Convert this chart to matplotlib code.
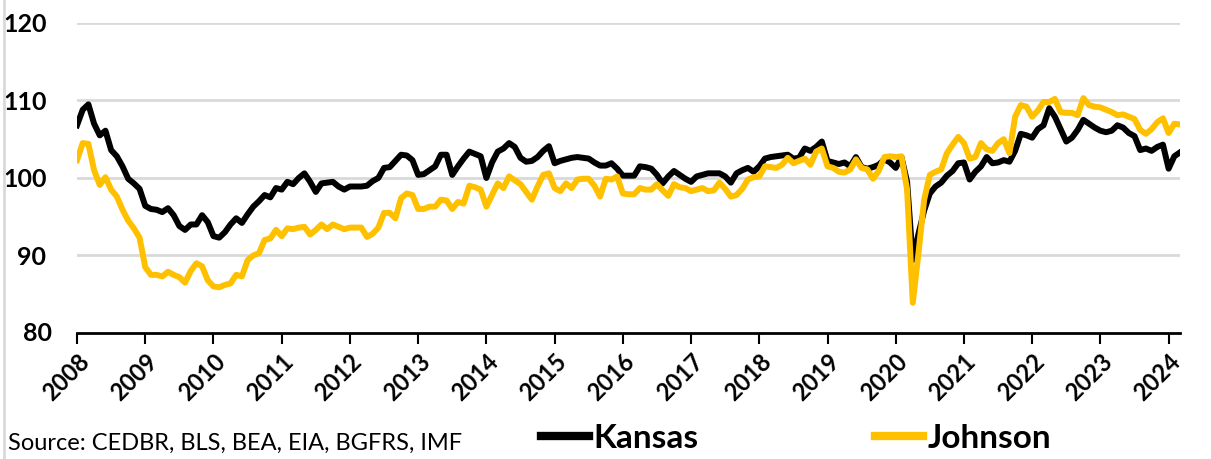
import numpy as np
import matplotlib.pyplot as plt
from matplotlib.lines import Line2D

# monthly index values, Jan 2008 - Mar 2024
kansas = [
    106.8, 108.8, 109.5, 107.0, 105.5, 106.1, 103.6, 102.8, 101.5, 99.9, 99.3, 98.6,   # 2008
    96.4, 96.0, 95.9, 95.6, 96.1, 95.2, 93.8, 93.3, 94.0, 94.0, 95.2, 94.3,           # 2009
    92.5, 92.3, 93.0, 94.0, 94.8, 94.2, 95.3, 96.3, 97.0, 97.8, 97.5, 98.7,           # 2010
    98.5, 99.5, 99.2, 100.0, 100.6, 99.5, 98.2, 99.3, 99.4, 99.5, 98.9, 98.5,         # 2011
    98.9, 98.9, 98.9, 99.0, 99.6, 100.0, 101.3, 101.4, 102.2, 103.0, 102.9, 102.3,    # 2012
    100.4, 100.5, 101.0, 101.5, 103.0, 103.0, 100.4, 101.5, 102.5, 103.4, 103.1, 102.8,  # 2013
    100.0, 102.0, 103.4, 103.8, 104.5, 104.0, 102.6, 102.1, 102.2, 102.7, 103.5, 104.1,  # 2014
    101.9, 102.2, 102.4, 102.6, 102.7, 102.6, 102.5, 102.0, 101.6, 101.6, 101.9, 101.2,  # 2015
    100.3, 100.3, 100.3, 101.5, 101.4, 101.2, 100.4, 99.3, 100.2, 100.9, 100.4, 99.9,    # 2016
    99.5, 100.2, 100.4, 100.6, 100.6, 100.6, 100.2, 99.4, 100.6, 101.0, 101.3, 100.8,    # 2017
    101.5, 102.5, 102.7, 102.8, 102.9, 103.0, 102.5, 102.6, 103.8, 103.5, 104.0, 104.7,  # 2018
    102.2, 102.0, 101.8, 102.0, 101.5, 102.7, 101.4, 101.2, 101.4, 101.7, 102.4, 102.0,  # 2019
    101.3, 102.7, 99.5, 89.4, 92.8, 95.8, 98.0, 98.9, 99.4, 100.3, 100.9, 101.9,         # 2020
    102.0, 99.8, 100.8, 101.5, 102.7, 101.9, 102.0, 102.3, 102.1, 103.5, 105.7, 105.5,   # 2021
    105.2, 106.3, 106.8, 109.0, 107.9, 106.3, 104.7, 105.2, 106.2, 107.5, 107.0, 106.5,  # 2022
    106.1, 105.9, 106.1, 106.8, 106.5, 105.8, 105.4, 103.6, 103.8, 103.5, 104.0, 104.3,  # 2023
    101.2, 102.8, 103.3,                                                                 # 2024
]

johnson = [
    102.3, 104.5, 104.4, 101.0, 99.1, 100.1, 98.5, 97.6, 95.9, 94.5, 93.5, 92.3,      # 2008
    88.5, 87.5, 87.5, 87.3, 87.9, 87.5, 87.2, 86.5, 88.0, 89.0, 88.6, 86.8,           # 2009
    86.0, 85.9, 86.2, 86.4, 87.5, 87.3, 89.4, 90.0, 90.3, 92.0, 92.2, 93.3,           # 2010
    92.5, 93.5, 93.4, 93.6, 93.7, 92.7, 93.3, 94.0, 93.4, 94.0, 93.7, 93.4,           # 2011
    93.6, 93.6, 93.6, 92.4, 92.8, 93.6, 95.5, 95.5, 94.8, 97.4, 98.0, 97.8,           # 2012
    96.0, 96.0, 96.3, 96.3, 97.2, 97.1, 96.0, 96.9, 96.7, 99.0, 98.8, 98.5,           # 2013
    96.3, 97.8, 99.3, 98.7, 100.2, 99.7, 99.2, 98.2, 97.2, 98.9, 100.4, 100.6,        # 2014
    98.7, 98.3, 99.3, 98.7, 99.8, 99.9, 99.9, 99.0, 97.6, 99.9, 99.8, 100.2,          # 2015
    98.0, 97.9, 97.9, 98.7, 98.5, 98.5, 99.2, 98.4, 97.7, 99.2, 98.8, 98.7,           # 2016
    98.3, 98.5, 98.7, 98.3, 98.4, 99.4, 98.6, 97.6, 97.8, 98.6, 99.8, 100.1,          # 2017
    100.2, 101.5, 101.4, 101.3, 101.7, 102.6, 101.9, 102.2, 102.5, 101.7, 103.4, 103.8,  # 2018
    101.5, 101.3, 100.8, 100.7, 101.1, 102.4, 101.3, 101.1, 99.9, 100.9, 102.7, 102.8,   # 2019
    102.7, 102.8, 98.5, 83.9, 90.3, 97.2, 100.4, 100.8, 101.1, 103.2, 104.3, 105.3,      # 2020
    104.5, 102.5, 102.7, 104.5, 103.7, 103.5, 104.5, 105.0, 103.2, 107.9, 109.4, 109.2,  # 2021
    107.9, 108.7, 109.8, 109.8, 110.2, 108.5, 108.4, 108.4, 108.1, 110.3, 109.4, 109.2,  # 2022
    109.1, 108.8, 108.5, 108.1, 108.2, 107.9, 107.6, 106.2, 105.7, 106.3, 107.2, 107.7,  # 2023
    105.8, 107.0, 106.9,                                                                 # 2024
]

years = list(range(2008, 2025))
yticks = [80, 90, 100, 110, 120]

x = 2008 + np.arange(len(kansas)) / 12.0

plt.rcParams['font.family'] = ['Lato', 'DejaVu Sans']

fig = plt.figure(figsize=(12.11, 4.59), dpi=100)
ax = fig.add_axes([0.0636, 0.2745, 0.9108, 0.6755])

ax.plot(x, kansas, color='black', linewidth=4.3, solid_joinstyle='round', label='Kansas', zorder=3)
ax.plot(x, johnson, color='#FFC000', linewidth=4.3, solid_joinstyle='round', label='Johnson', zorder=4)

ax.set_xlim(2008, x[-1])
ax.set_ylim(80, 120)
ax.set_yticks(yticks[1:])
ax.set_yticklabels([str(v) for v in yticks[1:]])
ax.yaxis.grid(True, color='#D9D9D9', linewidth=2)
ax.set_axisbelow(True)
ax.tick_params(axis='y', length=0, pad=22, labelsize=18)
for lab in ax.get_yticklabels():
    lab.set_fontweight('bold')
# the 80 label sits on the x axis line
fig.text(0.043, 0.2745, '80', ha='right', va='center', fontsize=18, fontweight='bold')

ax.set_xticks(years)
ax.set_xticklabels([str(y) for y in years], rotation=45, ha='right', rotation_mode='anchor',
                   fontsize=17, fontweight='bold')
ax.tick_params(axis='x', direction='out', length=8, width=1.5, pad=4)

for s in ['top', 'right', 'left']:
    ax.spines[s].set_visible(False)
ax.spines['bottom'].set_linewidth(2)

fig.text(0.007, 0.035, 'Source: CEDBR, BLS, BEA, EIA, BGFRS, IMF', fontsize=17, va='center')

fig.legend(loc='center left', bbox_to_anchor=(0.433, 0.045), ncol=2, frameon=False,
           prop={'size': 24, 'weight': 'bold'}, handlelength=1.45, handletextpad=0.12,
           columnspacing=5.3, borderpad=0)
for h in fig.legends[0].legend_handles:
    h.set_linewidth(6)

# thin grey border on the left edge, as in the source image
fig.add_artist(Line2D([0.003, 0.003], [0, 1], color='#D9D9D9', linewidth=2))

fig.savefig('out.png', dpi=100)
